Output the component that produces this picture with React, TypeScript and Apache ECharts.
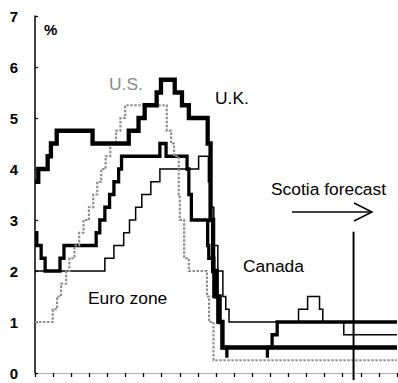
import React, { useEffect, useRef } from "react";
import * as echarts from "echarts";

// Central bank policy rates, % — each pair is [decimal year of the change, new rate]
const usFedFunds: [number, number][] = [
  [2004.0, 1.0], [2004.49, 1.25], [2004.61, 1.5], [2004.72, 1.75], [2004.86, 2.0], [2004.95, 2.25],
  [2005.09, 2.5], [2005.22, 2.75], [2005.34, 3.0], [2005.49, 3.25], [2005.61, 3.5], [2005.72, 3.75],
  [2005.83, 4.0], [2005.95, 4.25], [2006.08, 4.5], [2006.24, 4.75], [2006.36, 5.0], [2006.49, 5.25],
  [2007.64, 4.75], [2007.76, 4.5], [2007.84, 4.25], [2007.97, 3.5], [2008.0, 3.0], [2008.12, 2.25],
  [2008.25, 2.0], [2008.75, 1.5], [2008.81, 1.0], [2008.93, 0.25], [2014.0, 0.25],
];

const ukBankRate: [number, number][] = [
  [2004.0, 3.75], [2004.09, 4.0], [2004.35, 4.25], [2004.44, 4.5], [2004.6, 4.75],
  [2005.59, 4.5], [2006.59, 4.75], [2006.86, 5.0], [2007.03, 5.25], [2007.36, 5.5],
  [2007.48, 5.75], [2007.86, 5.5], [2008.06, 5.25], [2008.25, 5.0], [2008.77, 4.5],
  [2008.85, 3.0], [2008.92, 2.0], [2009.02, 1.5], [2009.1, 1.0], [2009.18, 0.5], [2014.0, 0.5],
];

const canadaOvernight: [number, number][] = [
  [2004.0, 2.75], [2004.05, 2.5], [2004.17, 2.25], [2004.28, 2.0], [2004.69, 2.25], [2004.8, 2.5],
  [2005.69, 2.75], [2005.79, 3.0], [2005.93, 3.25], [2006.06, 3.5], [2006.18, 3.75], [2006.31, 4.0],
  [2006.39, 4.25], [2007.45, 4.5], [2007.62, 4.25], [2008.2, 4.0], [2008.25, 3.5], [2008.32, 3.0],
  [2008.77, 2.5], [2008.8, 2.25], [2008.94, 1.5], [2009.05, 1.0], [2009.17, 0.5], [2009.3, 0.25],
  [2010.42, 0.5], [2010.55, 0.75], [2010.69, 1.0], [2014.0, 1.0],
];

const euroRefi: [number, number][] = [
  [2004.0, 2.0], [2005.93, 2.25], [2006.18, 2.5], [2006.45, 2.75], [2006.61, 3.0], [2006.78, 3.25],
  [2006.95, 3.5], [2007.2, 3.75], [2007.45, 4.0], [2008.52, 4.25], [2008.79, 3.75], [2008.86, 3.25],
  [2008.94, 2.5], [2009.05, 2.0], [2009.19, 1.5], [2009.27, 1.25], [2009.36, 1.0], [2011.28, 1.25],
  [2011.53, 1.5], [2011.86, 1.25], [2011.95, 1.0], [2012.53, 0.75], [2014.0, 0.75],
];

// Start of the forecast period and the span of its marker line, %
const forecastStart = 2012.8;
const forecastMarkerSpan = [-0.14, 2.77];

const yearRange = [2004, 2014];
const rateRange = [0, 7];

const FONT = "'Liberation Sans', Arial, Helvetica, sans-serif";

export default function App() {
  const ref = useRef<HTMLDivElement>(null);

  useEffect(() => {
    if (!ref.current) return;
    const chart = echarts.init(ref.current, undefined, { renderer: "svg" });

    const step = (
      name: string,
      data: [number, number][],
      color: string,
      width: number,
      type: any = "solid",
      z = 2
    ) => ({
      name,
      type: "line",
      step: "end",
      data,
      symbol: "none",
      z,
      lineStyle: { color, width, type, cap: "butt", join: "miter" },
      emphasis: { disabled: true },
    });

    // flat tail of the U.S. line, painted white underneath it
    const usTail = usFedFunds.filter((p) => p[0] >= 2008.93);

    const label = (text: string, x: number, y: number, color = "#000", size = 17.4) => ({
      type: "text",
      x,
      y,
      style: {
        text,
        fill: color,
        font: `${size}px ${FONT}`,
        textVerticalAlign: "middle",
      },
    });

    chart.setOption({
      animation: false,
      grid: { left: 35, right: 1, top: 16, bottom: 10, containLabel: false },
      xAxis: {
        type: "value",
        min: yearRange[0],
        max: yearRange[1],
        interval: 0.5,
        axisLine: { show: true, lineStyle: { color: "#b0b0b0", width: 1 } },
        axisTick: { show: true, inside: false, length: 4, lineStyle: { color: "#000", width: 1.3 } },
        axisLabel: { show: false },
        splitLine: { show: false },
      },
      yAxis: {
        type: "value",
        min: rateRange[0],
        max: rateRange[1],
        interval: 1,
        axisLine: { show: true, lineStyle: { color: "#000", width: 1.5 } },
        axisTick: { show: true, inside: true, length: 3, lineStyle: { color: "#000", width: 1.2 } },
        axisLabel: {
          color: "#000",
          fontFamily: FONT,
          fontSize: 15,
          fontWeight: "bold",
          margin: 17,
        },
        splitLine: { show: false },
      },
      series: [
        step("Euro zone", euroRefi, "#000", 1.5, "solid", 2),
        step("Canada", canadaOvernight, "#000", 3.3, "solid", 3),
        step("U.S. mask", usTail, "#fff", 5, "solid", 4),
        step("U.S.", usFedFunds, "#909090", 2.2, [2.5, 1.5], 5),
        step("U.K.", ukBankRate, "#000", 4.3, "solid", 6),
        {
          name: "Forecast start",
          type: "line",
          data: forecastMarkerSpan.map((v) => [forecastStart, v]),
          symbol: "none",
          clip: false,
          z: 7,
          lineStyle: { color: "#000", width: 2 },
          emphasis: { disabled: true },
        },
      ],
      graphic: [
        {
          type: "text",
          x: 44,
          y: 29,
          style: {
            text: "%",
            fill: "#000",
            font: `bold 15px ${FONT}`,
            textVerticalAlign: "middle",
          },
        },
        label("U.S.", 109, 84, "#8a8a8a"),
        label("U.K.", 215, 97.5),
        label("Canada", 243, 266),
        label("Euro zone", 88, 298),
        label("Scotia forecast", 271, 188.5),
        {
          type: "line",
          shape: { x1: 292, y1: 212, x2: 371, y2: 212 },
          style: { stroke: "#000", lineWidth: 1.5 },
        },
        {
          type: "polyline",
          shape: { points: [[354, 203], [372, 212], [354, 221]] },
          style: { stroke: "#000", lineWidth: 1.5, fill: null },
        },
      ],
    });

    return () => chart.dispose();
  }, []);

  return (
    <div
      ref={ref}
      style={{ position: "fixed", left: 0, top: 0, width: 398, height: 383, background: "#fff" }}
    />
  );
}
